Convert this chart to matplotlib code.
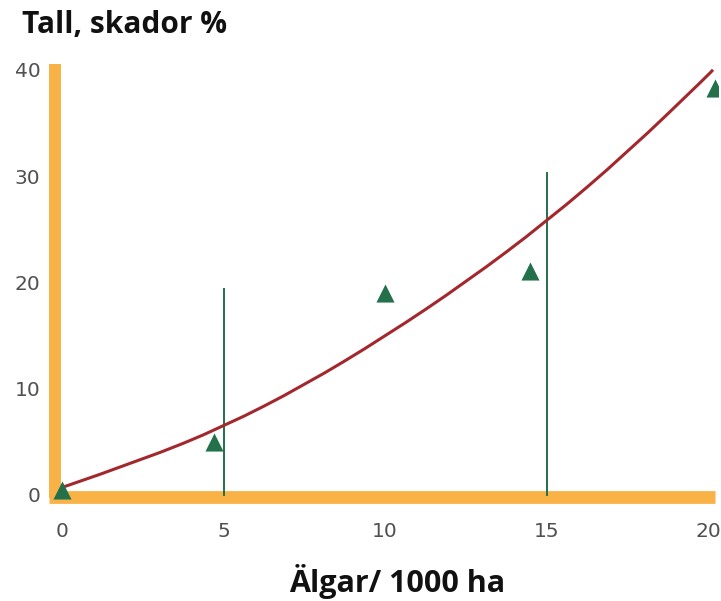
import matplotlib.pyplot as plt
from matplotlib.path import Path
from matplotlib.patches import PathPatch

# Data
algar = [0.0, 4.7, 10.0, 14.5, 20.2]           # älgar per 1000 ha (triangles)
skador = [0.5, 5.0, 19.0, 21.1, 38.3]           # tall, skador %
kurva_x = [0, 2.5, 5, 7.5, 10, 12.5, 15, 17.5, 20, 20.15]
kurva_y = [0.7, 3.3, 6.4, 10.3, 14.9, 20.0, 25.7, 32.2, 39.5, 40.0]
spridning_x = [5, 15]
spridning_topp = [19.4, 30.3]
xticks = [0, 5, 10, 15, 20]
yticks = [0, 10, 20, 30, 40]

orange = '#F8B246'
gron = '#23704A'
rod = '#A3282E'

fig = plt.figure(figsize=(7.21, 6.01), dpi=100)
ax = fig.add_axes([0.0636, 0.15, 0.932, 0.7516])
ax.set_xlim(-0.5, 20.3)
ax.set_ylim(-1.5, 41)

# orange axes
ax.plot([-0.22, -0.22], [-0.3, 40.5], color=orange, lw=8.6, solid_capstyle='butt', zorder=1)
ax.plot([-0.4, 20.2], [-0.19, -0.19], color=orange, lw=9.2, solid_capstyle='butt', zorder=1)

# vertical spread lines
for x, top in zip(spridning_x, spridning_topp):
    ax.plot([x, x], [0, top], color=gron, lw=1.4, zorder=2)

# smooth curve: quadratic bezier segments through midpoints of the read points
pts = list(zip(kurva_x, kurva_y))
verts = [pts[0]]
codes = [Path.MOVETO]
for i in range(1, len(pts) - 1):
    mid = ((pts[i][0] + pts[i + 1][0]) / 2, (pts[i][1] + pts[i + 1][1]) / 2)
    verts += [pts[i], mid]
    codes += [Path.CURVE3, Path.CURVE3]
verts.append(pts[-1])
codes.append(Path.LINETO)
ax.add_patch(PathPatch(Path(verts, codes), fill=False, edgecolor=rod, lw=2.2, zorder=3))

ax.scatter(algar, skador, marker='^', s=170, color=gron, zorder=4, linewidths=0)

for s in ax.spines.values():
    s.set_visible(False)
ax.set_xticks(xticks)
ax.set_yticks(yticks)
ax.tick_params(length=0, labelsize=14.5, colors='#505050')
ax.tick_params(axis='x', pad=8)
ax.tick_params(axis='y', pad=4)

fig.text(0.03, 0.945, 'Tall, skador %', fontsize=21.5, fontweight='bold',
         family='Open Sans', ha='left', va='baseline', color='#111111')
fig.text(0.551, 0.015, 'Älgar/ 1000 ha', fontsize=22, fontweight='bold',
         family='Open Sans', ha='center', va='baseline', color='#111111')

fig.savefig('out.png', dpi=100)
